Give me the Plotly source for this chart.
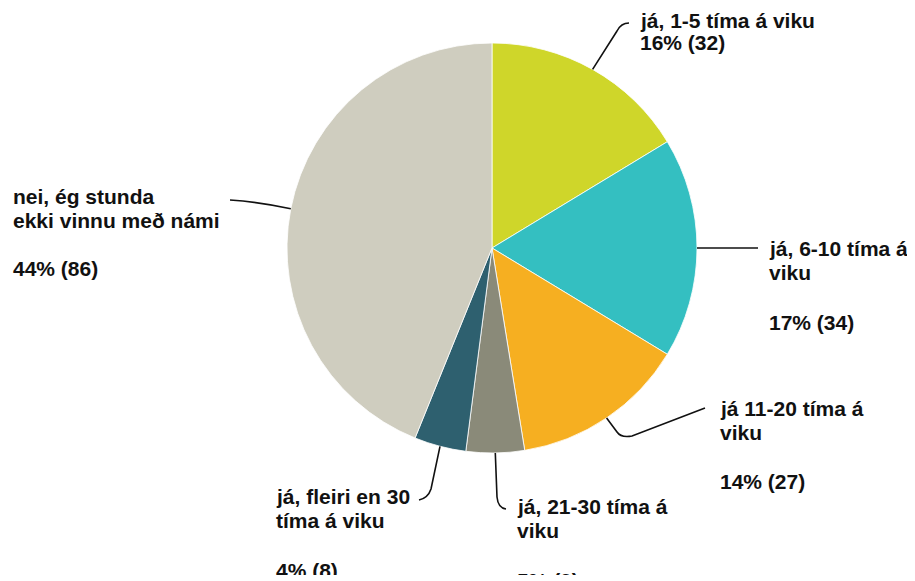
import math
import plotly.graph_objects as go

# ---- data ----
categories = [
    "já, 1-5 tíma á viku",
    "já, 6-10 tíma á viku",
    "já 11-20 tíma á viku",
    "já, 21-30 tíma á viku",
    "já, fleiri en 30 tíma á viku",
    "nei, ég stunda ekki vinnu með námi",
]
counts = [32, 34, 27, 9, 8, 86]
percent_labels = ["16% (32)", "17% (34)", "14% (27)", "5% (9)", "4% (8)", "44% (86)"]
name_lines = [
    ["já, 1-5 tíma á viku"],
    ["já, 6-10 tíma á", "viku"],
    ["já 11-20 tíma á", "viku"],
    ["já, 21-30 tíma á", "viku"],
    ["já, fleiri en 30", "tíma á viku"],
    ["nei, ég stunda", "ekki vinnu með námi"],
]
colors = ["#cfd62a", "#34bfc1", "#f6af21", "#8a8a79", "#2e606f", "#cfcdbf"]

# ---- layout constants (page pixels; the page body has an 8px margin) ----
OFF = 8
W, H = 907, 567
CX, CY, R = 492, 248, 205

def px(x):
    return (x - OFF) / W

def py(y):
    return 1 - (y - OFF) / H

# label layout: (text left x, first line centre y, percent line offset)
label_pos = [
    (638, 20, 22),
    (767, 249, 73),
    (718, 408, 73),
    (515, 506, 74),
    (274, 496, 74),
    (11, 197, 72),
]

def leader(i, sx, sy):
    if i == 0:
        return f"M{sx},{sy} L617,31 Q621,23 629,23"
    if i == 1:
        return f"M{sx},{sy} L758,{sy}"
    if i == 2:
        return f"M{sx},{sy} L617,432 Q621,438 632,436 L705,408"
    if i == 3:
        return f"M{sx},{sy} L497,497 Q498,508 506,509"
    if i == 4:
        return f"M{sx},{sy} L431,489 Q428,498 419,500"
    return f"M{sx},{sy} Q260,202 230,200"

fig = go.Figure()
fig.add_trace(go.Pie(
    labels=categories,
    values=counts,
    sort=False,
    direction="clockwise",
    rotation=0,
    marker=dict(colors=colors, line=dict(color="white", width=0.8)),
    textinfo="none",
    hoverinfo="label+value+percent",
    domain=dict(x=[px(CX - R), px(CX + R)], y=[py(CY + R), py(CY - R)]),
    showlegend=False,
))

total = sum(counts)
cum = 0
annotations = []
shapes = []
font = dict(family="Liberation Sans, Arial, sans-serif", size=21, color="#111111")
for i, c in enumerate(counts):
    mid = (cum + c / 2) / total * 2 * math.pi
    cum += c
    sx = round(CX + R * math.sin(mid), 1)
    sy = round(CY - R * math.cos(mid), 1)
    shapes.append(dict(type="path", path=leader(i, sx, sy), xref="x", yref="y",
                       line=dict(color="#111111", width=1.6)))
    lx, ly, poff = label_pos[i]
    for k, line in enumerate(name_lines[i]):
        annotations.append(dict(text=f"<b>{line}</b>", x=px(lx), y=py(ly + 24 * k), xref="paper", yref="paper",
                                xanchor="left", yanchor="middle", showarrow=False, font=font))
    annotations.append(dict(text=f"<b>{percent_labels[i]}</b>", x=px(lx), y=py(ly + poff), xref="paper", yref="paper",
                            xanchor="left", yanchor="middle", showarrow=False, font=font))

fig.update_layout(
    width=W, height=H,
    margin=dict(l=0, r=0, t=0, b=0),
    paper_bgcolor="white", plot_bgcolor="rgba(0,0,0,0)",
    xaxis=dict(range=[OFF, OFF + W], visible=False, domain=[0, 1], fixedrange=True),
    yaxis=dict(range=[OFF + H, OFF], visible=False, domain=[0, 1], fixedrange=True),
    annotations=annotations,
    shapes=shapes,
)

fig.write_html("out.html", post_script="document.documentElement.style.overflow='hidden';")
